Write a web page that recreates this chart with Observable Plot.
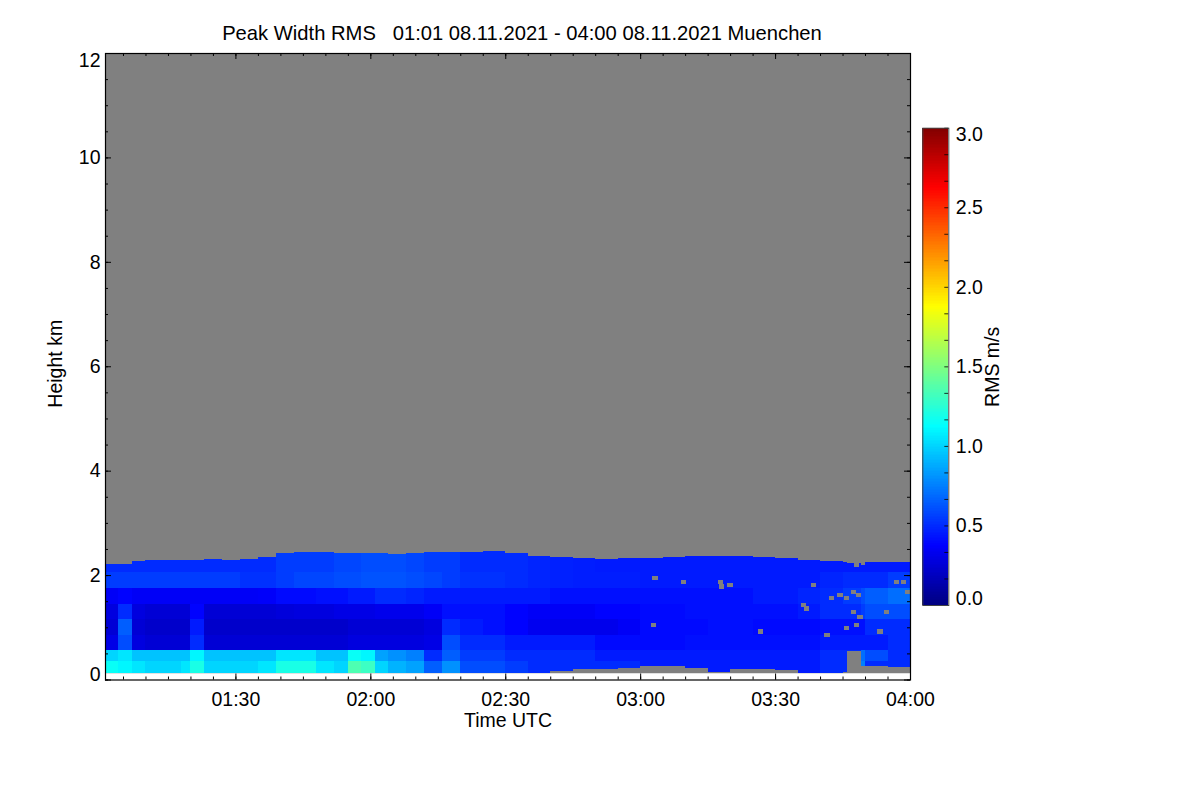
<!DOCTYPE html>
<html>
<head>
<meta charset="utf-8">
<script src="https://cdn.jsdelivr.net/npm/d3@7"></script>
<script src="https://cdn.jsdelivr.net/npm/@observablehq/plot@0.6"></script>
<style>
  body { margin: 0; background: #fff; font-family: "Liberation Sans", Arial, Helvetica, sans-serif; }
  #wrap { position: relative; width: 1200px; height: 800px; overflow: hidden; }
  #title { position: absolute; top: 23px; left: 0; width: 1044px; text-align: center; font-size: 20.2px; line-height: 20px; white-space: pre; color: #000; }
  #main, #cbar { position: absolute; top: 0; }
  #main { left: 0; }
  #cbar { left: 915px; }
</style>
</head>
<body>
<div id="wrap">
  <div id="main"></div>
  <div id="cbar"></div>
  <div id="title">Peak Width RMS   01:01 08.11.2021 - 04:00 08.11.2021 Muenchen</div>
</div>
<script>
// ---------- DATA (minutes after 01:00 UTC, heights in km, RMS in m/s) ----------
const timeRange = [1, 180];              // 01:01 .. 04:00
const heightRange = [0, 12];
const dataFloorKm = 0.12;                 // lowest range gate
const colEdges = [1,4,7,10,14,18,20,23,27,31,35,39,43,48,52,55,58,61,64,68,72,76,80,85,90,95,100,105,110,115,120,125,130,135,140,145,150,155,160,165,166,169,170,175,180];
const dataTopKm = [2.21,2.22,2.27,2.28,2.29,2.28,2.29,2.30,2.28,2.30,2.34,2.42,2.44,2.44,2.43,2.42,2.43,2.42,2.41,2.43,2.45,2.44,2.45,2.47,2.42,2.36,2.34,2.32,2.31,2.32,2.32,2.35,2.36,2.36,2.37,2.35,2.32,2.28,2.27,2.25,2.24,2.20,2.26,2.25];
const dataBottomKm = [0.12,0.12,0.12,0.12,0.12,0.12,0.12,0.12,0.12,0.12,0.12,0.12,0.12,0.12,0.12,0.12,0.12,0.12,0.12,0.12,0.12,0.12,0.12,0.12,0.12,0.12,0.16,0.20,0.20,0.22,0.25,0.25,0.22,0.15,0.20,0.20,0.18,0.12,0.12,0.15,0.55,0.25,0.26,0.24];
const layerBounds = [0.35, 0.57, 0.85, 1.15, 1.45, 1.75, 2.05];
const rmsL0 = [1.15,1.10,1.05,1.00,1.00,1.05,1.20,1.00,1.00,1.00,1.05,1.20,1.20,1.05,1.00,1.35,1.30,1.00,0.90,0.85,0.65,0.80,0.60,0.60,0.55,0.50,0.50,0.50,0.50,0.50,0.45,0.45,0.45,0.45,0.45,0.45,0.45,0.45,0.50,0.50,0.60,0.75,0.50,0.50];
const rmsL1 = [1.00,1.05,0.95,0.95,0.95,0.95,1.10,0.95,0.95,0.95,0.95,1.05,1.05,0.95,0.95,1.15,1.10,0.85,0.80,0.75,0.50,0.65,0.55,0.55,0.50,0.50,0.50,0.50,0.45,0.45,0.45,0.45,0.45,0.45,0.45,0.45,0.45,0.45,0.50,0.50,0.50,0.70,0.60,0.50];
const rmsL2 = [0.30,0.60,0.28,0.25,0.25,0.25,0.50,0.25,0.25,0.25,0.25,0.25,0.25,0.25,0.25,0.28,0.28,0.28,0.28,0.28,0.30,0.60,0.50,0.50,0.45,0.45,0.45,0.45,0.40,0.40,0.40,0.40,0.42,0.42,0.42,0.42,0.42,0.42,0.45,0.45,0.45,0.45,0.45,0.50];
const rmsL3 = [0.25,0.65,0.25,0.22,0.22,0.22,0.45,0.22,0.22,0.22,0.22,0.22,0.22,0.22,0.22,0.25,0.25,0.25,0.25,0.25,0.28,0.50,0.45,0.42,0.38,0.33,0.32,0.32,0.32,0.35,0.40,0.40,0.40,0.42,0.42,0.40,0.40,0.40,0.42,0.42,0.42,0.42,0.50,0.50];
const rmsL4 = [0.28,0.50,0.28,0.25,0.25,0.25,0.38,0.25,0.25,0.25,0.25,0.27,0.28,0.28,0.30,0.30,0.30,0.32,0.32,0.32,0.35,0.42,0.42,0.42,0.38,0.35,0.35,0.35,0.38,0.38,0.40,0.40,0.42,0.42,0.42,0.42,0.42,0.45,0.50,0.50,0.50,0.55,0.60,0.60];
const rmsL5 = [0.35,0.38,0.35,0.35,0.35,0.35,0.35,0.35,0.35,0.35,0.36,0.40,0.40,0.42,0.42,0.45,0.45,0.50,0.50,0.48,0.45,0.45,0.45,0.45,0.45,0.45,0.42,0.42,0.42,0.42,0.42,0.42,0.42,0.42,0.42,0.45,0.45,0.48,0.50,0.55,0.55,0.60,0.65,0.70];
const rmsL6 = [0.55,0.55,0.55,0.55,0.55,0.55,0.55,0.55,0.55,0.52,0.52,0.55,0.58,0.58,0.60,0.60,0.62,0.62,0.62,0.60,0.58,0.55,0.52,0.52,0.50,0.48,0.47,0.46,0.46,0.46,0.45,0.45,0.45,0.45,0.45,0.45,0.45,0.45,0.48,0.50,0.50,0.50,0.50,0.55];
const rmsL7 = [0.50,0.50,0.50,0.50,0.50,0.50,0.50,0.50,0.50,0.50,0.50,0.55,0.55,0.55,0.58,0.58,0.60,0.60,0.60,0.58,0.55,0.55,0.50,0.50,0.50,0.48,0.47,0.46,0.45,0.45,0.45,0.45,0.45,0.45,0.45,0.45,0.45,0.45,0.45,0.45,0.45,0.45,0.45,0.45];
// missing (no-data) gates inside the echo
const gapTimes   = [123.3,129.6,137.8,140.0,138.1,158.5,164.4,165.9,167.4,168.5,162.6,167.4,168.9,168.1,165.9,173.3,174.8,177.0,178.5,179.5,156.3,157.0,161.5,146.7,122.9,168.1];
const gapHeights = [1.94,1.87,1.87,1.81,1.78,1.81,1.62,1.56,1.68,1.62,1.56,1.30,1.20,1.04,0.98,0.92,1.30,1.87,1.87,1.68,1.43,1.36,0.85,0.92,1.04,2.19];
// axes
const xMajorTicks = [30, 60, 90, 120, 150, 180];
const xTickLabels = ["01:30", "02:00", "02:30", "03:00", "03:30", "04:00"];
const yMajorTicks = [0, 2, 4, 6, 8, 10, 12];
const yTickLabels = ["0", "2", "4", "6", "8", "10", "12"];
const cbTicks = [0, 0.5, 1.0, 1.5, 2.0, 2.5, 3.0];
const cbTickLabels = ["0.0", "0.5", "1.0", "1.5", "2.0", "2.5", "3.0"];
const rmsRange = [0, 3];
const jetStops = [0, 0.375, 1.125, 1.875, 2.625, 3];
const jetColors = ["#000080", "#0000ff", "#00ffff", "#ffff00", "#ff0000", "#800000"];

// ---------- build tables ----------
const layers = [rmsL0, rmsL1, rmsL2, rmsL3, rmsL4, rmsL5, rmsL6, rmsL7];
const cells = [];
for (let i = 0; i < colEdges.length - 1; i++) {
  for (let j = 0; j < layers.length; j++) {
    const lo = Math.max(j === 0 ? -Infinity : layerBounds[j - 1], dataBottomKm[i]);
    const hi = Math.min(j === layers.length - 1 ? Infinity : layerBounds[j], dataTopKm[i]);
    if (hi > lo) cells.push({t1: colEdges[i], t2: colEdges[i + 1], h1: lo, h2: hi, v: layers[j][i]});
  }
}
const gaps = gapTimes.map((t, i) => ({t, h: gapHeights[i]}));
const xMinor = d3.range(5, 180, 5).filter(m => m >= timeRange[0]);
const yMinor = d3.range(0, 12.01, 0.5);
const xLabels = xMajorTicks.map((t, i) => ({t, label: xTickLabels[i]}));
const yLabels = yMajorTicks.map((h, i) => ({h, label: yTickLabels[i]}));
const cbLabels = cbTicks.map((v, i) => ({v, label: cbTickLabels[i]}));

const W = 1200, H = 800, mL = 105, mR = 290, mT = 53, mB = 120.5;
const kmPerPx = (heightRange[1] - heightRange[0]) / (H - mT - mB);
const minPerPx = (timeRange[1] - timeRange[0]) / (W - mL - mR);
const colorOpts = {type: "linear", domain: jetStops, range: jetColors, interpolate: "rgb", clamp: true};
const font = {fontFamily: "'Liberation Sans', Arial, Helvetica, sans-serif", fontSize: "19.5px", background: "transparent", color: "#000"};

const main = Plot.plot({
  width: W, height: H, marginLeft: mL, marginRight: mR, marginTop: mT, marginBottom: mB,
  x: {domain: timeRange, axis: null},
  y: {domain: heightRange, axis: null},
  color: colorOpts,
  style: font,
  marks: [
    Plot.rect([0], {x1: timeRange[0], x2: timeRange[1], y1: dataFloorKm, y2: heightRange[1], fill: "#808080"}),
    Plot.rect(cells, {x1: "t1", x2: "t2", y1: "h1", y2: "h2", fill: "v", shapeRendering: "crispEdges"}),
    Plot.rect(gaps, {x1: d => d.t - 0.6, x2: d => d.t + 0.6, y1: d => d.h - 0.04, y2: d => d.h + 0.04, fill: "#808080", shapeRendering: "crispEdges"}),
    // inward ticks: bottom & top
    Plot.ruleX(xMajorTicks, {x: d => d, y1: heightRange[0], y2: heightRange[0] + 6 * kmPerPx, stroke: "black"}),
    Plot.ruleX(xMajorTicks, {x: d => d, y1: heightRange[1], y2: heightRange[1] - 6 * kmPerPx, stroke: "black"}),
    Plot.ruleX(xMinor, {x: d => d, y1: heightRange[0], y2: heightRange[0] + 3 * kmPerPx, stroke: "black"}),
    Plot.ruleX(xMinor, {x: d => d, y1: heightRange[1], y2: heightRange[1] - 3 * kmPerPx, stroke: "black"}),
    // inward ticks: left & right
    Plot.ruleY(yMajorTicks, {y: d => d, x1: timeRange[0], x2: timeRange[0] + 6 * minPerPx, stroke: "black"}),
    Plot.ruleY(yMajorTicks, {y: d => d, x1: timeRange[1], x2: timeRange[1] - 6 * minPerPx, stroke: "black"}),
    Plot.ruleY(yMinor, {y: d => d, x1: timeRange[0], x2: timeRange[0] + 3 * minPerPx, stroke: "black"}),
    Plot.ruleY(yMinor, {y: d => d, x1: timeRange[1], x2: timeRange[1] - 3 * minPerPx, stroke: "black"}),
    Plot.frame({stroke: "black", strokeWidth: 1.2}),
    // tick labels
    Plot.text(xLabels, {x: "t", y: heightRange[0], text: "label", dy: 19.5, fill: "black"}),
    Plot.text(yLabels.filter(d => d.h > heightRange[0] && d.h < heightRange[1]), {x: timeRange[0], y: "h", text: "label", textAnchor: "end", dx: -5, fill: "black"}),
    Plot.text(yLabels.filter(d => d.h === heightRange[0]), {x: timeRange[0], y: "h", text: "label", textAnchor: "end", dx: -5, dy: -5.5, fill: "black"}),
    Plot.text(yLabels.filter(d => d.h === heightRange[1]), {x: timeRange[0], y: "h", text: "label", textAnchor: "end", dx: -5, dy: 7, fill: "black"}),
    // axis titles
    Plot.text(["Time UTC"], {x: (timeRange[0] + timeRange[1]) / 2, y: heightRange[0], text: d => d, dy: 40.5, fill: "black"}),
    Plot.text(["Height km"], {frameAnchor: "left", textAnchor: "middle", text: d => d, rotate: -90, dx: -50, dy: -3, fill: "black"})
  ]
});
document.getElementById("main").appendChild(main);

// ---------- colour bar ----------
const cbW = 285, cbL = 7.3, cbBarW = 26, cbT = 127.7, cbB = H - 605;
const slices = d3.range(rmsRange[0], rmsRange[1], 0.01);
const cbMinor = d3.range(0, 3.001, 0.5 / 3);
const cbUnitPerPx = 1 / cbBarW;
const cbar = Plot.plot({
  width: cbW, height: H, marginLeft: cbL, marginRight: cbW - cbL - cbBarW, marginTop: cbT, marginBottom: cbB,
  x: {domain: [0, 1], axis: null},
  y: {domain: rmsRange, axis: null},
  color: colorOpts,
  style: font,
  marks: [
    Plot.rect(slices, {x1: 0, x2: 1, y1: d => d, y2: d => d + 0.0101, fill: d => d + 0.005, shapeRendering: "crispEdges"}),
    Plot.ruleY(cbMinor, {y: d => d, x1: 1, x2: 1 - 4 * cbUnitPerPx, stroke: "black", strokeWidth: 0.8}),
    Plot.frame({stroke: "#444", strokeWidth: 1}),
    Plot.text(cbLabels.filter(d => d.v > rmsRange[0] && d.v < rmsRange[1]), {x: 1, y: "v", text: "label", textAnchor: "start", dx: 7, fill: "black"}),
    Plot.text(cbLabels.filter(d => d.v === rmsRange[0]), {x: 1, y: "v", text: "label", textAnchor: "start", dx: 7, dy: -7, fill: "black"}),
    Plot.text(cbLabels.filter(d => d.v === rmsRange[1]), {x: 1, y: "v", text: "label", textAnchor: "start", dx: 7, dy: 7, fill: "black"}),
    Plot.text(["RMS m/s"], {x: 1, y: (rmsRange[0] + rmsRange[1]) / 2, text: d => d, rotate: -90, dx: 44, fill: "black"})
  ]
});
document.getElementById("cbar").appendChild(cbar);
</script>
</body>
</html>
